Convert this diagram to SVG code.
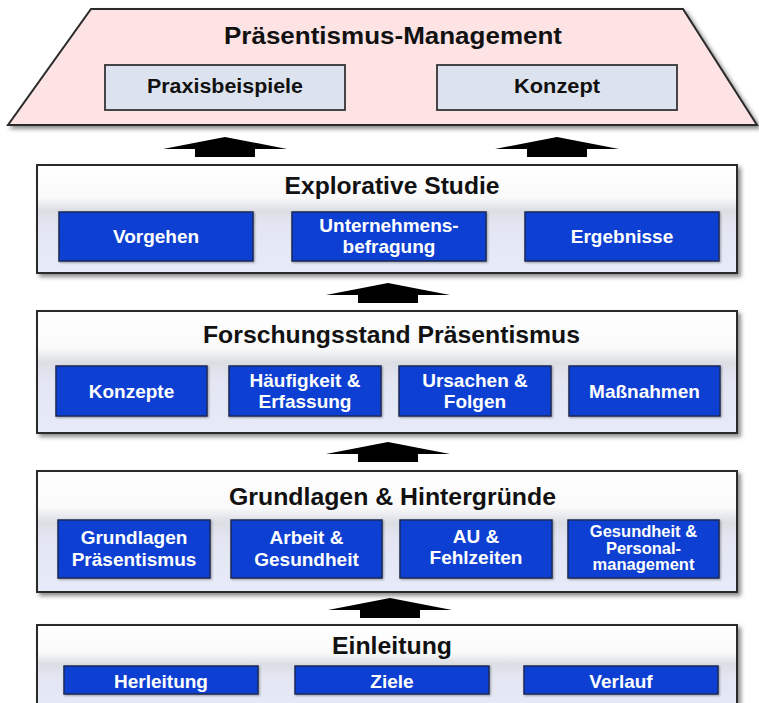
<svg xmlns="http://www.w3.org/2000/svg" xmlns:xlink="http://www.w3.org/1999/xlink" width="759" height="703" viewBox="0 0 759 703">
  <defs>
    <style>
      .t { font-family: "Liberation Sans", Arial, sans-serif; font-weight: bold; text-anchor: middle; }
      .title { fill: #111; font-size: 23px; }
      .top { fill: #111; font-size: 20px; }
      .lbl { fill: #fff; font-size: 19px; }
      .lbl17 { fill: #fff; font-size: 16.5px; }
      .panel { fill: url(#pg); stroke: #2a2a2a; stroke-width: 2; filter: url(#sh); }
      .blue { fill: #0b40d2; stroke: #1c2a55; stroke-width: 1.5; filter: url(#sh2); }
      .grey { fill: #dde3ee; stroke: #333; stroke-width: 1.8; }
      .arrow { fill: #000; }
    </style>
    <linearGradient id="pg" x1="0" y1="0" x2="0" y2="1">
      <stop offset="0" stop-color="#ffffff"/>
      <stop offset="0.3" stop-color="#fafafb"/>
      <stop offset="0.42" stop-color="#dcdee4"/>
      <stop offset="0.56" stop-color="#e3e6f2"/>
      <stop offset="1" stop-color="#e7eaf8"/>
    </linearGradient>
    <filter id="sh" x="-5%" y="-10%" width="115%" height="130%">
      <feDropShadow dx="3" dy="3" stdDeviation="2" flood-color="#000" flood-opacity="0.45"/>
    </filter>
    <filter id="sh2" x="-5%" y="-10%" width="115%" height="130%">
      <feDropShadow dx="1" dy="1" stdDeviation="1" flood-color="#000" flood-opacity="0.35"/>
    </filter>
    <path id="arr" d="M0,0 L62,12 L30,12 L30,20 L-30,20 L-30,12 L-62,12 Z"/>
  </defs>

  <g id="praesentismus-management">
    <polygon points="91,9 683,9 757,125 8,125" fill="#fde3e3" stroke="#2a2a2a" stroke-width="2" filter="url(#sh)"/>
    <text class="t title" x="393" y="44" textLength="338" lengthAdjust="spacingAndGlyphs">Präsentismus-Management</text>
    <g id="praxisbeispiele">
      <rect class="grey" x="105" y="65" width="240" height="45"/>
      <text class="t top" x="225" y="93" textLength="156" lengthAdjust="spacingAndGlyphs">Praxisbeispiele</text>
    </g>
    <g id="konzept">
      <rect class="grey" x="437" y="65" width="240" height="45"/>
      <text class="t top" x="557" y="93" textLength="86" lengthAdjust="spacingAndGlyphs">Konzept</text>
    </g>
  </g>

  <g id="explorative-studie">
    <rect class="panel" x="37" y="165" width="700" height="108"/>
    <text class="t title" x="392" y="194" textLength="215" lengthAdjust="spacingAndGlyphs">Explorative Studie</text>
    <g id="vorgehen">
      <rect class="blue" x="59" y="212" width="194" height="49"/>
      <text class="t lbl" x="156" y="243">Vorgehen</text>
    </g>
    <g id="unternehmensbefragung">
      <rect class="blue" x="292" y="212" width="194" height="49"/>
      <text class="t lbl" x="389" y="232">Unternehmens-</text>
      <text class="t lbl" x="389" y="253">befragung</text>
    </g>
    <g id="ergebnisse">
      <rect class="blue" x="525" y="212" width="194" height="49"/>
      <text class="t lbl" x="622" y="243">Ergebnisse</text>
    </g>
  </g>

  <g id="forschungsstand">
    <rect class="panel" x="37" y="311" width="700" height="122"/>
    <text class="t title" x="391.5" y="343" textLength="377" lengthAdjust="spacingAndGlyphs">Forschungsstand Präsentismus</text>
    <g id="konzepte">
      <rect class="blue" x="56" y="366" width="151" height="50"/>
      <text class="t lbl" x="131.5" y="398">Konzepte</text>
    </g>
    <g id="haeufigkeit">
      <rect class="blue" x="229" y="366" width="152" height="50"/>
      <text class="t lbl" x="305" y="387">Häufigkeit &amp;</text>
      <text class="t lbl" x="305" y="408">Erfassung</text>
    </g>
    <g id="ursachen">
      <rect class="blue" x="399" y="366" width="152" height="50"/>
      <text class="t lbl" x="475" y="387">Ursachen &amp;</text>
      <text class="t lbl" x="475" y="408">Folgen</text>
    </g>
    <g id="massnahmen">
      <rect class="blue" x="569" y="366" width="151" height="50"/>
      <text class="t lbl" x="644.5" y="398">Maßnahmen</text>
    </g>
  </g>

  <g id="grundlagen-hintergruende">
    <rect class="panel" x="37" y="471" width="700" height="121"/>
    <text class="t title" x="392.5" y="505" textLength="327" lengthAdjust="spacingAndGlyphs">Grundlagen &amp; Hintergründe</text>
    <g id="grundlagen-praesentismus">
      <rect class="blue" x="58" y="520" width="152" height="58"/>
      <text class="t lbl" x="134" y="544">Grundlagen</text>
      <text class="t lbl" x="134" y="566">Präsentismus</text>
    </g>
    <g id="arbeit-gesundheit">
      <rect class="blue" x="231" y="520" width="151" height="58"/>
      <text class="t lbl" x="306.5" y="544">Arbeit &amp;</text>
      <text class="t lbl" x="306.5" y="566">Gesundheit</text>
    </g>
    <g id="au-fehlzeiten">
      <rect class="blue" x="400" y="520" width="152" height="58"/>
      <text class="t lbl" x="476" y="543">AU &amp;</text>
      <text class="t lbl" x="476" y="564">Fehlzeiten</text>
    </g>
    <g id="gesundheit-personal">
      <rect class="blue" x="568" y="520" width="151" height="58"/>
      <text class="t lbl17" x="643.5" y="537"><tspan x="643.5" y="537">Gesundheit &amp;</tspan><tspan x="643.5" y="553.5">Personal-</tspan><tspan x="643.5" y="570">management</tspan></text>
    </g>
  </g>

  <g id="einleitung">
    <rect class="panel" x="37" y="625" width="700" height="92"/>
    <text class="t title" x="392" y="654" textLength="120" lengthAdjust="spacingAndGlyphs">Einleitung</text>
    <g id="herleitung">
      <rect class="blue" x="64" y="666" width="194" height="28"/>
      <text class="t lbl" x="161" y="688">Herleitung</text>
    </g>
    <g id="ziele">
      <rect class="blue" x="295" y="666" width="194" height="28"/>
      <text class="t lbl" x="392" y="688">Ziele</text>
    </g>
    <g id="verlauf">
      <rect class="blue" x="524" y="666" width="194" height="28"/>
      <text class="t lbl" x="621" y="688">Verlauf</text>
    </g>
  </g>

  <g id="connectors" class="arrow">
    <use xlink:href="#arr" transform="translate(225,137)"/>
    <use xlink:href="#arr" transform="translate(557,137)"/>
    <use xlink:href="#arr" transform="translate(388,283)"/>
    <use xlink:href="#arr" transform="translate(388,442)"/>
    <use xlink:href="#arr" transform="translate(390,598)"/>
  </g>
</svg>
